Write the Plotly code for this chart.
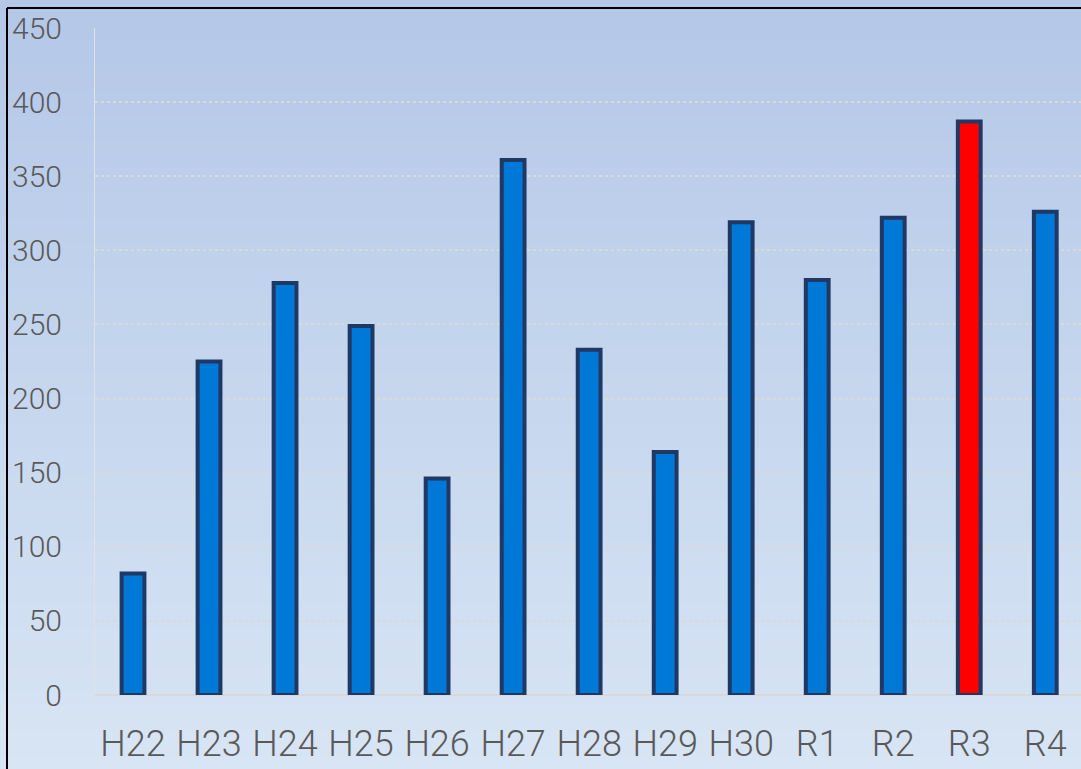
import plotly.graph_objects as go

# Yearly counts, fiscal years H22 .. R4
years = ["H22", "H23", "H24", "H25", "H26", "H27", "H28", "H29", "H30", "R1", "R2", "R3", "R4"]
counts = [82, 225, 278, 249, 146, 361, 233, 164, 319, 280, 322, 387, 326]
highlight_year = "R3"

y_ticks = [0, 50, 100, 150, 200, 250, 300, 350, 400, 450]

W, H = 1081, 769
L, T, B = 95, 28, 74
plot_w = W - L
plot_h = H - T - B

bar_colors = ["#ff0000" if y == highlight_year else "#0078d7" for y in years]

fig = go.Figure()
fig.add_trace(go.Bar(
    x=years,
    y=counts,
    width=0.30,
    marker=dict(color=bar_colors, line=dict(color="#1f3864", width=4)),
    hoverinfo="x+y",
))


def px_to_paper_x(px):
    return (px - L) / plot_w


def px_to_paper_y(py):
    return (H - B - py) / plot_h


# vertical background gradient across the whole canvas
top_rgb = (180, 199, 231)
bot_rgb = (215, 229, 244)
n_steps = 60
shapes = []
for i in range(n_steps):
    t = i / (n_steps - 1)
    r = round(top_rgb[0] + (bot_rgb[0] - top_rgb[0]) * t)
    g = round(top_rgb[1] + (bot_rgb[1] - top_rgb[1]) * t)
    b = round(top_rgb[2] + (bot_rgb[2] - top_rgb[2]) * t)
    y0 = H * i / n_steps
    y1 = H * (i + 1) / n_steps + 1
    shapes.append(dict(
        type="rect", xref="paper", yref="paper", layer="below",
        x0=px_to_paper_x(0), x1=px_to_paper_x(W),
        y0=px_to_paper_y(y1), y1=px_to_paper_y(y0),
        fillcolor=f"rgb({r},{g},{b})", line=dict(width=0),
    ))

# outer frame (left and top edges)
shapes.append(dict(type="line", xref="paper", yref="paper",
                   x0=px_to_paper_x(7), x1=px_to_paper_x(7),
                   y0=px_to_paper_y(H + 5), y1=px_to_paper_y(8),
                   line=dict(color="#000000", width=2)))
shapes.append(dict(type="line", xref="paper", yref="paper",
                   x0=px_to_paper_x(7), x1=px_to_paper_x(W + 5),
                   y0=px_to_paper_y(8), y1=px_to_paper_y(8),
                   line=dict(color="#000000", width=2)))

fig.update_layout(
    width=W, height=H,
    margin=dict(l=L, r=0, t=T, b=B, pad=0),
    paper_bgcolor="rgb(215,229,244)",
    plot_bgcolor="rgba(0,0,0,0)",
    showlegend=False,
    shapes=shapes,
    bargap=0.7,
    xaxis=dict(
        range=[-0.5, 12.47],
        showgrid=False,
        showline=False,
        ticks="",
        tickfont=dict(family="Roboto", size=36, color="#595959", weight=300),
        ticklabelstandoff=24,
    ),
    yaxis=dict(
        range=[0, 450],
        tickvals=y_ticks,
        showgrid=True,
        gridcolor="#d9d9d9",
        griddash="dot",
        gridwidth=1.5,
        zeroline=True,
        zerolinecolor="#d9d9d9",
        zerolinewidth=2,
        showline=True,
        linecolor="#e2e2e2",
        linewidth=1,
        ticks="",
        tickfont=dict(family="Roboto", size=30, color="#595959", weight=300),
        ticklabelstandoff=26,
    ),
)

fig.write_html("out.html")
